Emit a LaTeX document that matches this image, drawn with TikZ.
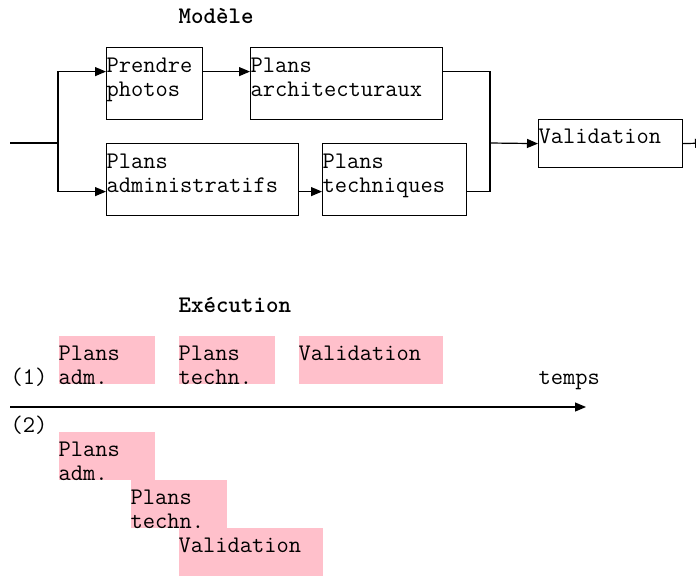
\documentclass[tikz,border=0pt]{standalone}
\usetikzlibrary{calc,arrows.meta}
\definecolor{pinkbox}{RGB}{255,192,203}
\begin{document}
\begin{tikzpicture}[x=1pt,y=-1pt,line width=1.2pt,
    arr/.style={-{Triangle[length=11pt,width=9pt]}},
    box/.style={draw,anchor=north west,inner sep=0pt},
    slot/.style={fill=pinkbox,anchor=north west,inner sep=0pt},
    txt/.style={font=\ttfamily\fontsize{23.8}{24}\selectfont,inner sep=0pt,align=left,anchor=base west},
    title/.style={font=\ttfamily\bfseries\fontsize{23.8}{24}\selectfont,inner sep=0pt,anchor=base west}]

	\useasboundingbox (0,0) rectangle (696,576);

	%% Modele : blocks
	\node[title] (mtitle) at (178,23) {Modèle};

	\node[box,minimum width=96pt,minimum height=72pt] (photo) at (106,47) {};
	\node[box,minimum width=192pt,minimum height=72pt] (archi) at (250,47) {};
	\node[box,minimum width=192pt,minimum height=72pt] (adm) at (106,143) {};
	\node[box,minimum width=144pt,minimum height=72pt] (tech) at (322,143) {};
	\node[box,minimum width=144pt,minimum height=48pt] (valid) at (538,119) {};

	% base of a two-line node is its last line
	\node[txt] (photo-t) at ([yshift=-49pt]photo.north west) {Prendre\\photos};
	\node[txt] (archi-t) at ([yshift=-49pt]archi.north west) {Plans\\architecturaux};
	\node[txt] (adm-t) at ([yshift=-49pt]adm.north west) {Plans\\administratifs};
	\node[txt] (tech-t) at ([yshift=-49pt]tech.north west) {Plans\\techniques};
	\node[txt] (valid-t) at ([yshift=-24pt]valid.north west) {Validation};

	%% fork and join points
	\coordinate (start) at (10,143);
	\coordinate (fork) at (58,143);
	\coordinate (join) at (490,143);
	\coordinate (out) at (706,143);

	%% connectors
	\draw (start) -- (fork);
	\draw[arr] (fork) |- ([yshift=12pt]photo.west);
	\draw[arr] (fork) |- ([yshift=-12pt]adm.west);
	\draw[arr] ([yshift=12pt]photo.east) -- ([yshift=12pt]archi.west);
	\draw[arr] ([yshift=-12pt]adm.east) -- ([yshift=-12pt]tech.west);
	\draw ([yshift=12pt]archi.east) -| (join);
	\draw ([yshift=-12pt]tech.east) -| (join);
	\draw[arr] (join) -- (valid.west);
	\draw[arr] (valid.east) -- (out);

	%% Execution : time line
	\node[title] (etitle) at (178,312) {Exécution};

	% (1) one after the other
	\node[slot,minimum width=96pt,minimum height=48pt] (s1a) at (58,335) {};
	\node[slot,minimum width=96pt,minimum height=48pt] (s1b) at (178,335) {};
	\node[slot,minimum width=144pt,minimum height=48pt] (s1c) at (298,335) {};
	\node[txt] (s1a-t) at ([yshift=-49pt]s1a.north west) {Plans\\adm.};
	\node[txt] (s1b-t) at ([yshift=-49pt]s1b.north west) {Plans\\techn.};
	\node[txt] (s1c-t) at ([yshift=-25pt]s1c.north west) {Validation};
	\node[txt] (one) at (10,384) {(1)};
	\node[txt] (temps) at (538,384) {temps};

	\coordinate (t0) at (10,407);
	\coordinate (t1) at (586,407);
	\draw[arr] (t0) -- (t1);

	% (2) overlapping
	\node[txt] (two) at (10,432) {(2)};
	\node[slot,minimum width=96pt,minimum height=48pt] (s2a) at (58,431) {};
	\node[txt] (s2a-t) at ([yshift=-49pt]s2a.north west) {Plans\\adm.};
	\node[slot,minimum width=96pt,minimum height=48pt] (s2b) at (130,479) {};
	\node[txt] (s2b-t) at ([yshift=-49pt]s2b.north west) {Plans\\techn.};
	\node[slot,minimum width=144pt,minimum height=48pt] (s2c) at (178,527) {};
	\node[txt] (s2c-t) at ([yshift=-25pt]s2c.north west) {Validation};
\end{tikzpicture}
\end{document}
